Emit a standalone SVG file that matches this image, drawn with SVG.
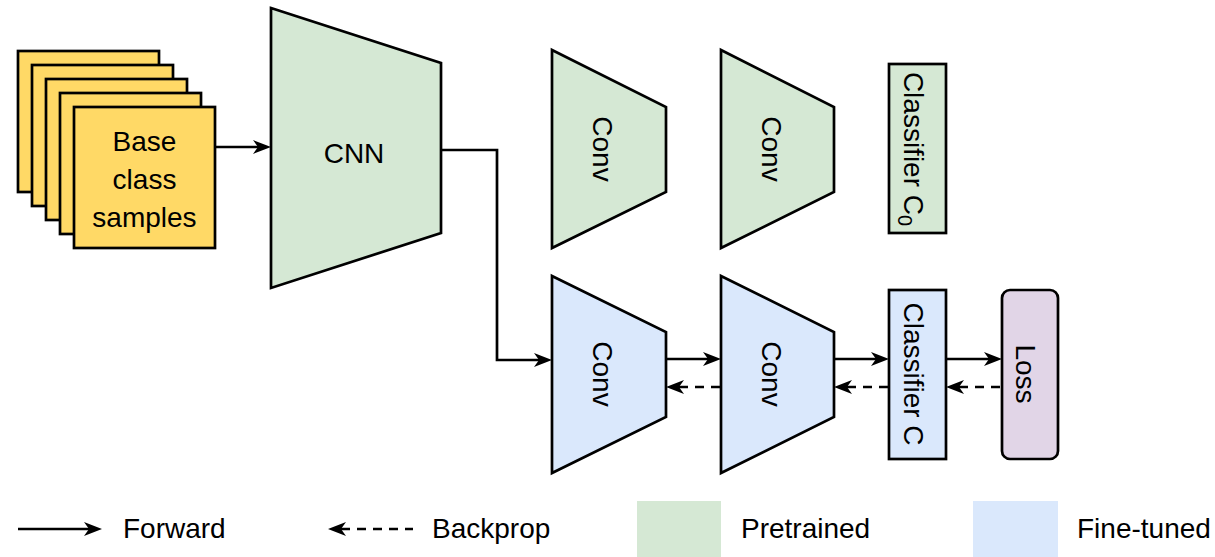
<svg xmlns="http://www.w3.org/2000/svg" width="1215" height="557" viewBox="0 0 1215 557">
<style>
.s{stroke:#000;stroke-width:2.7;stroke-linejoin:miter}
.y{fill:#ffd966}
.g{fill:#d5e8d4}
.b{fill:#dae8fc}
.p{fill:#e1d5e7}
text{font-family:"Liberation Sans",Arial,sans-serif;font-size:28px;fill:#000}
.c{stroke:#000;stroke-width:2.7;fill:none}
.d{stroke-dasharray:9 7}
</style>
<defs>
<marker id="ah" markerUnits="userSpaceOnUse" markerWidth="22" markerHeight="18" viewBox="-7 -9 22 18" refX="0" refY="0" orient="auto-start-reverse">
<path d="M-5,-7 L13,0 L-5,7 L0,0 Z" fill="#000"/>
</marker>
</defs>
<rect width="1215" height="557" fill="#fff"/>
<g id="samples">
<rect class="s y" x="18" y="51" width="141" height="141"/>
<rect class="s y" x="32" y="65" width="141" height="141"/>
<rect class="s y" x="46" y="79" width="141" height="141"/>
<rect class="s y" x="60" y="93" width="141" height="141"/>
<rect class="s y" x="74" y="107" width="141" height="141"/>
<text text-anchor="middle"><tspan x="144.5" y="151">Base</tspan><tspan x="144.5" y="189">class</tspan><tspan x="144.5" y="227">samples</tspan></text>
</g>
<g id="cnn">
<polygon class="s g" points="271,8 441,63 441,233 271,288"/>
<text x="354" y="163" text-anchor="middle">CNN</text>
</g>
<g id="conv-p1">
<polygon class="s g" points="552,50 666,107 666,192 552,248"/>
<text transform="translate(593,149) rotate(90)" text-anchor="middle">Conv</text>
</g>
<g id="conv-p2">
<polygon class="s g" points="721,50 834,107 834,192 721,248"/>
<text transform="translate(762,149) rotate(90)" text-anchor="middle">Conv</text>
</g>
<g id="classifier-c0">
<rect class="s g" x="889" y="64" width="57" height="169"/>
<text transform="translate(904,149) rotate(90)" text-anchor="middle">Classifier C<tspan font-size="20" dy="6">0</tspan></text>
</g>
<g id="conv-f1">
<polygon class="s b" points="552,276 666,332 666,417 552,473"/>
<text transform="translate(593,374) rotate(90)" text-anchor="middle">Conv</text>
</g>
<g id="conv-f2">
<polygon class="s b" points="721,276 834,332 834,417 721,473"/>
<text transform="translate(762,374) rotate(90)" text-anchor="middle">Conv</text>
</g>
<g id="classifier-c">
<rect class="s b" x="889" y="290" width="57" height="169"/>
<text transform="translate(904,374) rotate(90)" text-anchor="middle">Classifier C</text>
</g>
<g id="loss">
<rect class="s p" x="1002" y="290" width="56" height="169" rx="8" ry="8"/>
<text transform="translate(1016,374) rotate(90)" text-anchor="middle">Loss</text>
</g>
<g id="connectors">
<path class="c" d="M215,147 H258" marker-end="url(#ah)"/>
<path class="c" d="M441,150 H497 V360 H539" marker-end="url(#ah)"/>
<path class="c" d="M666,359 H708" marker-end="url(#ah)"/>
<path class="c" d="M834,359 H876" marker-end="url(#ah)"/>
<path class="c" d="M946,359 H989" marker-end="url(#ah)"/>
<path class="c d" d="M679,387 H721" marker-start="url(#ah)"/>
<path class="c d" d="M847,387 H889" marker-start="url(#ah)"/>
<path class="c d" d="M959,387 H1002" marker-start="url(#ah)"/>
</g>
<g id="legend">
<path class="c" d="M18,529 H89" marker-end="url(#ah)"/>
<text x="123" y="538">Forward</text>
<path class="c d" d="M341,529 H413" marker-start="url(#ah)"/>
<text x="432" y="538">Backprop</text>
<rect class="g" x="637" y="501" width="84" height="56"/>
<text x="741" y="538">Pretrained</text>
<rect class="b" x="973" y="501" width="85" height="56"/>
<text x="1077" y="538">Fine-tuned</text>
</g>
</svg>
